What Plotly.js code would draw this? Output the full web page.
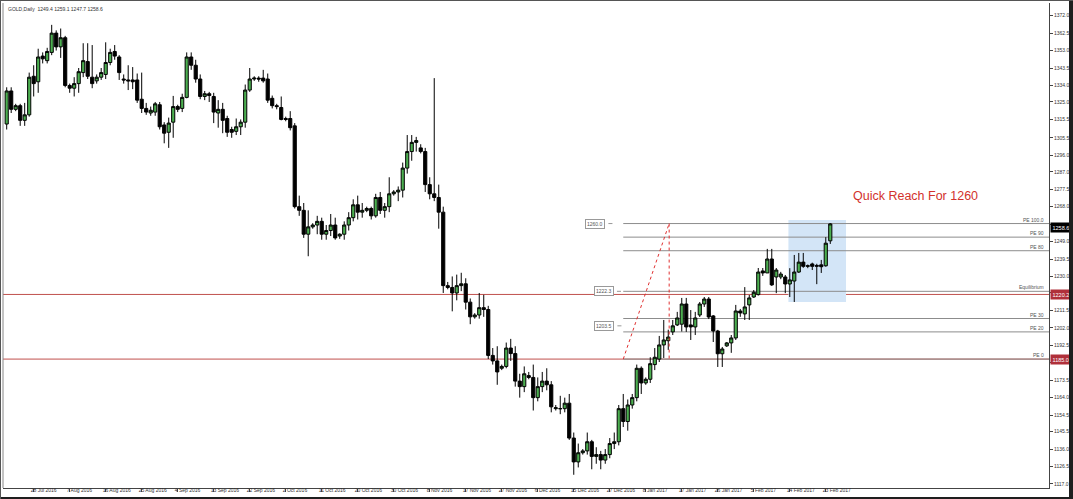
<!DOCTYPE html>
<html>
<head>
<meta charset="utf-8">
<script src="https://cdn.plot.ly/plotly-3.0.1.min.js"></script>
<style>
html,body{margin:0;padding:0;background:#fff;}
#chart{position:absolute;left:0;top:0;width:1073px;height:499px;}
.edge{position:absolute;background:#1e1e1e;}
</style>
</head>
<body>
<div id="chart"></div>
<div class="edge" style="left:1069px;top:0;width:4px;height:499px;"></div>
<div class="edge" style="left:0;top:497px;width:1073px;height:2px;"></div>
<div class="edge" style="left:0;top:0;width:1px;height:499px;background:#555;"></div>
<div class="edge" style="left:0;top:0;width:1073px;height:1px;background:#555;"></div>
<script>
// ---- data (GOLD, Daily) ----
const dates = [
"2016-07-21","2016-07-22","2016-07-24","2016-07-25","2016-07-26","2016-07-27","2016-07-28","2016-07-29",
"2016-07-31","2016-08-01","2016-08-02","2016-08-03","2016-08-04","2016-08-05",
"2016-08-07","2016-08-08","2016-08-09","2016-08-10","2016-08-11","2016-08-12",
"2016-08-14","2016-08-15","2016-08-16","2016-08-17","2016-08-18","2016-08-19",
"2016-08-21","2016-08-22","2016-08-23","2016-08-24","2016-08-25","2016-08-26",
"2016-08-28","2016-08-29","2016-08-30","2016-08-31","2016-09-01","2016-09-02",
"2016-09-04","2016-09-05","2016-09-06","2016-09-07","2016-09-08","2016-09-09",
"2016-09-11","2016-09-12","2016-09-13","2016-09-14","2016-09-15","2016-09-16",
"2016-09-18","2016-09-19","2016-09-20","2016-09-21","2016-09-22","2016-09-23",
"2016-09-25","2016-09-26","2016-09-27","2016-09-28","2016-09-29","2016-09-30",
"2016-10-02","2016-10-03","2016-10-04","2016-10-05","2016-10-06","2016-10-07",
"2016-10-09","2016-10-10","2016-10-11","2016-10-12","2016-10-13","2016-10-14",
"2016-10-16","2016-10-17","2016-10-18","2016-10-19","2016-10-20","2016-10-21",
"2016-10-23","2016-10-24","2016-10-25","2016-10-26","2016-10-27","2016-10-28",
"2016-10-30","2016-10-31","2016-11-01","2016-11-02","2016-11-03","2016-11-04",
"2016-11-06","2016-11-07","2016-11-08","2016-11-09","2016-11-10","2016-11-11",
"2016-11-13","2016-11-14","2016-11-15","2016-11-16","2016-11-17","2016-11-18",
"2016-11-20","2016-11-21","2016-11-22","2016-11-23","2016-11-24","2016-11-25",
"2016-11-27","2016-11-28","2016-11-29","2016-11-30","2016-12-01","2016-12-02",
"2016-12-04","2016-12-05","2016-12-06","2016-12-07","2016-12-08","2016-12-09",
"2016-12-11","2016-12-12","2016-12-13","2016-12-14","2016-12-15","2016-12-16",
"2016-12-18","2016-12-19","2016-12-20","2016-12-21","2016-12-22","2016-12-23",
"2016-12-27","2016-12-28","2016-12-29","2016-12-30",
"2017-01-03","2017-01-04","2017-01-05","2017-01-06",
"2017-01-08","2017-01-09","2017-01-10","2017-01-11","2017-01-12","2017-01-13",
"2017-01-15","2017-01-16","2017-01-17","2017-01-18","2017-01-19","2017-01-20",
"2017-01-22","2017-01-23","2017-01-24","2017-01-25","2017-01-26","2017-01-27",
"2017-01-29","2017-01-30","2017-01-31","2017-02-01","2017-02-02","2017-02-03",
"2017-02-05","2017-02-06","2017-02-07","2017-02-08","2017-02-09","2017-02-10",
"2017-02-12","2017-02-13","2017-02-14","2017-02-15","2017-02-16","2017-02-17",
"2017-02-19","2017-02-20","2017-02-21","2017-02-22","2017-02-23","2017-02-24"];

const open = [
1313,1331,1321,1323,1315,1318,1339,1336,
1350,1347.5,1352,1362.5,1355,1360,
1334,1332.5,1335,1341,1347,1338.5,
1336.5,1338.5,1340,1346.5,1352.5,1349.5,
1337.5,1337,1337,1337,1326.5,1321.5,
1319,1319.5,1323.5,1312.5,1308.5,1314,
1322.5,1321.5,1327.5,1349.5,1345,1337.5,
1328,1329.5,1328,1319,1321,1316,
1310,1309,1311.5,1314,1331.5,1337.5,
1338,1338,1337.5,1327,1323,1322,
1316,1316,1312,1268,1266,1253,
1257,1258,1260,1253,1255,1258,
1252,1253,1258,1262,1269,1265,
1266,1267,1263,1273,1266,1268,
1275,1276,1277,1289,1298,1303,
1300,1298,1280,1275,1273,1265,
1225,1224,1221,1225,1226,1216,
1208,1209,1213,1212,1187,1184,
1180,1181,1191,1188,1173,1170,
1176,1175,1164,1170,1173,1171,
1158,1158,1158,1161,1142,1129,
1134,1135,1140,1132,1133,1130,
1133,1139,1140,1158,
1151,1160,1164,1180,
1172,1174,1182,1185,1192.7,1195,
1199.8,1203.6,1204,1215,1203.6,1202.5,
1209,1215,1217.7,1208.5,1200.3,1187.9,
1192.2,1193.8,1196.5,1211.2,1209.6,1214.5,
1218.8,1220.1,1233,1231.9,1239.5,1229.7,
1229.7,1229.7,1225.9,1227.5,1232.4,1237.8,
1235.5,1236.8,1236,1236.3,1235.8,1249.4];

const high = [
1333,1333,1324,1324,1324.5,1341,1345,1354,
1352,1354.5,1367,1364,1365,1361,
1335,1338.5,1343.5,1357,1357,1356,
1340,1343.5,1357.5,1354,1356,1350.5,
1340,1345,1344,1340.5,1341,1324.5,
1322.5,1325,1325,1314,1316.5,1328.3,
1323.5,1329.5,1352,1352,1348,1340,
1331,1330.5,1330,1326,1324.5,1317.5,
1311.5,1316,1315.5,1334.5,1343.5,1339,
1339,1342.5,1340.5,1328.5,1324,1328,
1317,1320,1313.5,1274,1270,1266,
1259,1263,1262,1258,1264,1262,
1253.5,1260,1265,1272,1274,1270,
1268,1268,1275,1276,1270,1284,
1277,1279,1292,1307,1307,1306,
1302,1300,1284,1338,1280,1268,
1227,1230,1231,1232,1229,1218,
1210,1221,1220,1214,1191,1192,
1182,1194,1196,1192,1177,1181,
1178,1182,1175,1178,1180,1173,
1160,1165,1164,1166,1145,1139,
1136,1145,1141,1137,1135,1136,
1142,1145,1160,1166,
1163,1166,1182,1181,
1175,1186,1191,1197.6,1206.3,1201,
1206.3,1210.7,1218.3,1218.3,1211.7,1210.7,
1216.1,1218.8,1218.8,1209,1200.9,1191.6,
1194.3,1198.1,1214.5,1212.3,1224.2,1219.9,
1222.6,1234.6,1234.6,1245,1245,1234.6,
1232.5,1230.8,1234.5,1241.7,1242.8,1242.8,
1236.5,1237.5,1236.9,1239,1251.4,1259.1];

const low = [
1310,1319,1320,1312,1312,1317,1328,1330,
1346,1346,1350.5,1353,1349,1333,
1330,1328,1330,1338.5,1337.5,1332.5,
1335,1337,1337.5,1345,1348,1337,
1335,1331.5,1332,1324.5,1319,1318,
1317.5,1317.5,1310,1302.5,1300,1305.5,
1319.5,1319.5,1327,1342.5,1335.5,1326.5,
1326,1325,1313.5,1311,1308,1306,
1305.5,1307,1307,1311,1330.5,1336.5,
1336,1335.5,1324.5,1321.5,1321,1315,
1314.5,1309.5,1267,1263,1251,1241,
1256,1253,1250,1250,1252,1250,
1250.5,1250,1255,1260,1261,1262,
1265,1261,1262,1264,1262,1265,
1274,1271,1273,1286,1293,1298,
1297,1276,1272,1271,1256,1221,
1223,1211,1217,1222,1212,1204,
1207,1207,1208,1185,1182,1171,
1179,1180,1184,1170,1164,1167,
1174,1157,1162,1167,1168,1156,
1157,1155,1156,1141,1122,1126,
1133,1133,1125,1128,1125,1128,
1131,1136,1138,1148,
1146,1158,1162,1166,
1171,1172,1179,1183.4,1185.6,1190,
1198.1,1203,1200,1199.8,1195.4,1198.1,
1207.9,1213.4,1206.8,1194.3,1180.7,1180.7,
1191.6,1188.4,1195.4,1208,1206.3,1206.3,
1218.3,1219.6,1230.3,1231.9,1224.8,1220.9,
1228.5,1220.9,1218.8,1216.1,1231.9,1234.7,
1234.5,1233.5,1225.8,1231.9,1235.3,1247.7];

const close = [
1331,1321,1323,1315,1318,1338.5,1335,1349.5,
1348.5,1352.5,1362.5,1355,1360,1334,
1332.5,1335,1341.5,1347.5,1339,1335,
1338.5,1341,1346.5,1352,1350,1341,
1337,1336.5,1336,1326,1321.5,1319.5,
1320.5,1324,1311.5,1308,1313.5,1322.5,
1321,1327.5,1349.5,1345,1337.5,1328,
1329.5,1328.5,1319.5,1321,1315,1308.5,
1308.5,1311.5,1314,1331.5,1337.5,1338,
1337.5,1336.5,1326,1323,1322.5,1315.5,
1315.5,1311,1268,1266,1253,1257,
1258,1260,1253,1255,1258,1251,
1253,1258,1262,1269,1265,1266,
1267,1263,1273,1266,1268,1275,
1276,1277,1289,1298,1303,1304,
1298,1280,1275,1273,1265,1225,
1224,1221,1225,1226,1216,1208,
1209,1213,1212,1187,1184,1178,
1181,1191,1188,1173,1170,1177,
1175,1164,1170,1173,1171,1159,
1158.5,1158,1161,1142,1129,1134,
1135,1140,1132,1133,1130,1133,
1139,1140,1158,1151,
1160,1164,1180,1172,
1174,1182.5,1186,1192.7,1195.4,1197,
1203.1,1207.4,1215,1202.5,1202.5,1207.4,
1215,1217.7,1207.9,1200.3,1187.9,1190.5,
1193.8,1196.5,1211.2,1210.1,1213.4,1218.3,
1221.4,1232.4,1231.9,1239.5,1225.4,1233.5,
1231.3,1225.9,1228.1,1232.4,1237.8,1235.5,
1235.8,1235.5,1235.6,1235.3,1248.1,1258.6];

const tickDates = ["2016-07-28","2016-08-07","2016-08-16","2016-08-25","2016-09-04","2016-09-13",
"2016-09-22","2016-10-02","2016-10-11","2016-10-20","2016-10-30","2016-11-08","2016-11-17",
"2016-11-27","2016-12-06","2016-12-15","2016-12-27","2017-01-08","2017-01-17","2017-01-26",
"2017-02-05","2017-02-14","2017-02-23"];
const tickText = ["28 Jul 2016","7 Aug 2016","16 Aug 2016","25 Aug 2016","4 Sep 2016","13 Sep 2016",
"22 Sep 2016","2 Oct 2016","11 Oct 2016","20 Oct 2016","30 Oct 2016","8 Nov 2016","17 Nov 2016",
"27 Nov 2016","6 Dec 2016","15 Dec 2016","27 Dec 2016","8 Jan 2017","17 Jan 2017","26 Jan 2017",
"5 Feb 2017","14 Feb 2017","23 Feb 2017"];

// price scale labels (the ones hidden under the price tags are left blank)
const priceTicks = [1372.0,1362.5,1353.0,1343.5,1334.0,1325.0,1315.5,1305.5,1296.0,1287.0,1277.5,
1268.0,1258.5,1249.0,1239.5,1230.0,1221.0,1211.5,1202.0,1192.5,1183.0,1173.5,1164.0,1154.5,
1145.5,1136.0,1126.5,1117.0];
const hiddenTicks = [1258.5, 1221.0, 1183.0];

// expansion levels
const fibNames  = ["PE 0","PE 20","PE 30","Equilibrium","PE 80","PE 90","PE 100.0"];
const fibPrices = [1185.0,1199.8,1207.1,1221.9,1244.0,1251.4,1258.8];
const redLevels = [1220.2, 1185.0];
const lastPrice = 1258.6;
const titleText = "GOLD,Daily  1249.4 1259.1 1247.7 1258.6";

// ---- chart ----
const fnt = "Liberation Sans, Arial, sans-serif";
const shapes = [];
const annotations = [];

// blue zone
shapes.push({type:'rect', xref:'x', yref:'y', x0:173.7, x1:186.5, y0:1216.1, y1:1260.8,
  fillcolor:'#d3e5f7', line:{width:0}, layer:'below'});

// red horizontal levels
redLevels.forEach(v => {
  shapes.push({type:'line', xref:'paper', yref:'y', x0:0, x1:1, y0:v, y1:v,
    line:{color:'#c0504d', width:1}, layer:'below'});
  annotations.push({xref:'paper', yref:'y', x:1, y:v, xanchor:'left', yanchor:'middle', xshift:1,
    text:v.toFixed(1), showarrow:false, bgcolor:'#b0303a', font:{family:fnt,size:5.5,color:'#fff'}, borderpad:1.5});
});

// expansion level lines
fibPrices.forEach((v,i) => {
  shapes.push({type:'line', xref:'x', yref:'y', x0:137.0, x1:231.6, y0:v, y1:v,
    line:{color:'#8c8c8c', width:1}, layer:'below'});
  annotations.push({xref:'paper', yref:'y', x:1, y:v, xanchor:'right', yanchor:'bottom', xshift:-3, yshift:-1,
    text:fibNames[i], showarrow:false, font:{family:fnt,size:5,color:'#555'}});
});

// red dotted trend + vertical
shapes.push({type:'line', xref:'x', yref:'y', x0:137.0, y0:fibPrices[0], x1:147.2, y1:fibPrices[6],
  line:{color:'#e03030', width:1, dash:'dot'}});
shapes.push({type:'line', xref:'x', yref:'y', x0:147.2, y0:fibPrices[6], x1:147.2, y1:fibPrices[0],
  line:{color:'#e03030', width:1, dash:'dot'}});

// price tag boxes on the left of the levels
const tagBoxes = [[130.8,1258.8,"1260.0"],[132.7,1221.9,"1222.3"],[132.8,1203.1,"1203.5"]];
tagBoxes.forEach(t => {
  annotations.push({xref:'x', yref:'y', x:t[0], y:t[1], text:t[2], showarrow:false,
    bgcolor:'#fff', bordercolor:'#999', borderwidth:1, borderpad:1, font:{family:fnt,size:5,color:'#555'}});
  shapes.push({type:'line', xref:'x', yref:'y', x0:t[0]+2.9, x1:t[0]+3.8, y0:t[1], y1:t[1], line:{color:'#999',width:1}});
});

// current price tag
annotations.push({xref:'paper', yref:'y', x:1, y:lastPrice, xanchor:'left', yanchor:'middle', xshift:1, yshift:-4,
  text:lastPrice.toFixed(1), showarrow:false, bgcolor:'#000', font:{family:fnt,size:5.5,color:'#fff'}, borderpad:1.5});

// headline
annotations.push({xref:'x', yref:'y', x:202, y:1273.8, text:'Quick Reach For 1260', showarrow:false,
  font:{family:fnt,size:12.5,color:'#d2322d'}});

// top-left info
annotations.push({xref:'paper', yref:'paper', x:0, y:1, xanchor:'left', yanchor:'top', xshift:3, yshift:-1,
  text:titleText, showarrow:false, font:{family:fnt,size:5,color:'#333'}});

// left frame line
shapes.push({type:'line', xref:'paper', yref:'paper', x0:0, x1:0, y0:0, y1:1, line:{color:'#888',width:1}});

const trace = {
  type:'candlestick', x:dates, open:open, high:high, low:low, close:close,
  increasing:{line:{color:'#000', width:1}, fillcolor:'#4caf50'},
  decreasing:{line:{color:'#000', width:1}, fillcolor:'#000'},
  whiskerwidth:0, hoverinfo:'skip', showlegend:false
};

const layout = {
  width:1073, height:499,
  margin:{l:3, r:24, t:3, b:11},
  paper_bgcolor:'#fff', plot_bgcolor:'#fff',
  showlegend:false,
  boxgap:0.3, boxgroupgap:0,
  xaxis:{type:'category', range:[-0.82, 231.6], rangeslider:{visible:false},
    tickmode:'array', tickvals:tickDates, ticktext:tickText, tickangle:0,
    ticks:'outside', ticklen:3, tickcolor:'#444', tickwidth:1,
    ticklabelposition:'outside right', ticklabelshift:-4, ticklabelstandoff:-3,
    showline:true, linecolor:'#444', linewidth:1, showgrid:false, zeroline:false,
    tickfont:{family:fnt, size:5, color:'#333'}, fixedrange:true},
  yaxis:{side:'right', range:[1114.8, 1378.9], tickmode:'array', tickvals:priceTicks,
    ticktext:priceTicks.map(v => hiddenTicks.includes(v) ? '' : v.toFixed(1)),
    ticks:'outside', ticklen:3, tickcolor:'#444', tickwidth:1,
    showline:true, linecolor:'#444', linewidth:1, showgrid:false, zeroline:false,
    tickfont:{family:fnt, size:5, color:'#333'}, fixedrange:true},
  shapes:shapes, annotations:annotations
};

Plotly.newPlot('chart', [trace], layout, {displayModeBar:false, staticPlot:true});
</script>
</body>
</html>
